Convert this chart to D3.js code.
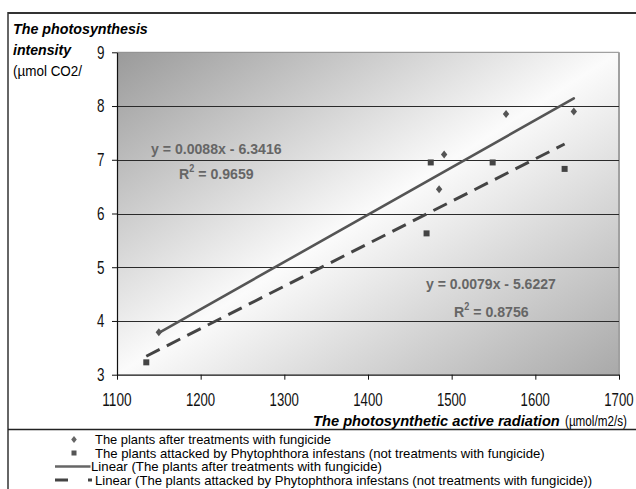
<!DOCTYPE html>
<html>
<head>
<meta charset="utf-8">
<script src="https://cdn.jsdelivr.net/npm/d3@7"></script>
<style>
  html, body { margin: 0; padding: 0; background: #fff; }
  svg { display: block; font-family: "Liberation Sans", Arial, sans-serif; }
</style>
</head>
<body>
<svg id="chart" width="636" height="489"></svg>
<script>
// Photosynthetic active radiation (µmol/m2/s) vs photosynthesis intensity
const radiationTreated = [1150, 1485, 1491, 1565, 1646];
const intensityTreated = [3.79, 6.45, 7.10, 7.85, 7.90];
const radiationAttacked = [1135, 1470, 1475, 1549, 1635];
const intensityAttacked = [3.23, 5.63, 6.95, 6.95, 6.83];

// Linear trend coefficients (slope, intercept, R²)
const trendTreated = { slope: 0.0088, intercept: -6.3416, r2: "0.9659" };
const trendAttacked = { slope: 0.0079, intercept: -5.6227, r2: "0.8756" };

const xTicks = [1100, 1200, 1300, 1400, 1500, 1600, 1700];
const yTicks = [3, 4, 5, 6, 7, 8, 9];

const legendLabels = [
  "The plants after treatments with fungicide",
  "The  plants attacked by Phytophthora infestans (not treatments with fungicide)",
  "Linear (The plants after treatments with fungicide)",
  "Linear (The  plants attacked by Phytophthora infestans (not treatments with fungicide))"
];

const svg = d3.select("#chart");
const plot = { left: 117, right: 619, top: 52.3, bottom: 374.7 };

const x = d3.scaleLinear().domain([1100, 1700]).range([plot.left, plot.right]);
const y = d3.scaleLinear().domain([3, 9]).range([plot.bottom, plot.top]);

// Narrow-set text: draws a label, then squeezes it horizontally to the given width.
// anchor: "start" keeps the left edge at x0, "end" the right edge, "middle" the centre.
function narrowText(parent, x0, baseline, width, anchor, build) {
  const g = parent.append("g");
  const t = g.append("text").attr("x", 0).attr("y", 0);
  build(t);
  const w = t.node().getBBox().width || 1;
  const s = width / w;
  const left = anchor === "end" ? x0 - width : anchor === "middle" ? x0 - width / 2 : x0;
  g.attr("transform", `translate(${left},${baseline}) scale(${s},1)`);
  return t;
}

// Outer frame
svg.append("line").attr("x1", 8).attr("x2", 636).attr("y1", 13).attr("y2", 13)
  .attr("stroke", "#333").attr("stroke-width", 2);
svg.append("line").attr("x1", 8).attr("x2", 8).attr("y1", 12).attr("y2", 489)
  .attr("stroke", "#333").attr("stroke-width", 1.5);
svg.append("line").attr("x1", 8).attr("x2", 636).attr("y1", 429.5).attr("y2", 429.5)
  .attr("stroke", "#222").attr("stroke-width", 1.3);

// Plot background gradient
const defs = svg.append("defs");
const grad = defs.append("linearGradient").attr("id", "bg")
  .attr("x1", 0).attr("y1", 0).attr("x2", 1).attr("y2", 1);
grad.append("stop").attr("offset", "0%").attr("stop-color", "#9a9a9a");
grad.append("stop").attr("offset", "50%").attr("stop-color", "#fbfbfb");
grad.append("stop").attr("offset", "100%").attr("stop-color", "#a9a9a9");

svg.append("rect")
  .attr("x", plot.left).attr("y", plot.top)
  .attr("width", plot.right - plot.left).attr("height", plot.bottom - plot.top)
  .attr("fill", "url(#bg)");

// Plot area top and right border
svg.append("line").attr("x1", plot.left).attr("x2", plot.right)
  .attr("y1", plot.top).attr("y2", plot.top).attr("stroke", "#8a8a8a").attr("stroke-width", 1);
svg.append("line").attr("x1", plot.right).attr("x2", plot.right)
  .attr("y1", plot.top).attr("y2", plot.bottom).attr("stroke", "#a0a0a0").attr("stroke-width", 2);

// Horizontal gridlines
svg.append("g").selectAll("line")
  .data(yTicks.filter(d => d > 3 && d < 9))
  .join("line")
  .attr("x1", plot.left).attr("x2", plot.right)
  .attr("y1", d => Math.round(y(d)) + 0.5).attr("y2", d => Math.round(y(d)) + 0.5)
  .attr("stroke", "#2a2a2a").attr("stroke-width", 1);

// Axes (tick labels drawn separately in narrow type)
const xAxis = svg.append("g")
  .attr("transform", `translate(0,${plot.bottom})`)
  .call(d3.axisBottom(x).tickValues(xTicks).tickSize(5).tickSizeOuter(0).tickFormat(""));
const yAxis = svg.append("g")
  .attr("transform", `translate(${plot.left},0)`)
  .call(d3.axisLeft(y).tickValues(yTicks).tickSize(5).tickSizeOuter(0).tickFormat(""));
[xAxis, yAxis].forEach(a => {
  a.select(".domain").attr("stroke", "#111").attr("stroke-width", 1.2);
  a.selectAll(".tick line").attr("stroke", "#111");
});

const tickLabels = svg.append("g").attr("font-size", 17.5).attr("fill", "#111");
xTicks.forEach(v => {
  narrowText(tickLabels, x(v), 405.5, 29.5, "middle", t => t.text(d3.format("d")(v)));
});
yTicks.forEach(v => {
  narrowText(tickLabels, 104.5, y(v) + 6.3, 7.5, "end", t => t.text(d3.format("d")(v)));
});

// Trend lines
const trendLine = (t, xs) => {
  const [lo, hi] = d3.extent(xs);
  return [[lo, t.slope * lo + t.intercept], [hi, t.slope * hi + t.intercept]];
};
const line = d3.line().x(d => x(d[0])).y(d => y(d[1]));

svg.append("path")
  .datum(trendLine(trendTreated, radiationTreated))
  .attr("d", line).attr("fill", "none")
  .attr("stroke", "#555").attr("stroke-width", 2.6).attr("stroke-linecap", "round");
svg.append("path")
  .datum(trendLine(trendAttacked, radiationAttacked))
  .attr("d", line).attr("fill", "none")
  .attr("stroke", "#444").attr("stroke-width", 3)
  .attr("stroke-dasharray", "15,8");

// Data markers
const treated = radiationTreated.map((r, i) => [r, intensityTreated[i]]);
const attacked = radiationAttacked.map((r, i) => [r, intensityAttacked[i]]);

svg.append("g").selectAll("path")
  .data(treated).join("path")
  .attr("d", "M0,-4L3.2,0L0,4L-3.2,0Z")
  .attr("transform", d => `translate(${x(d[0])},${y(d[1])})`)
  .attr("fill", "#555");
svg.append("g").selectAll("rect")
  .data(attacked).join("rect")
  .attr("x", d => x(d[0]) - 3).attr("y", d => y(d[1]) - 3)
  .attr("width", 6).attr("height", 6)
  .attr("fill", "#444");

// Regression equations
const eq = svg.append("g").attr("font-weight", "bold").attr("font-size", 15.5).attr("fill", "#666");
function equation(t, xEq, yEq, wEq, xR, yR, wR) {
  const sign = t.intercept < 0 ? "-" : "+";
  narrowText(eq, xEq, yEq, wEq, "start",
    s => s.text(`y = ${t.slope.toFixed(4)}x ${sign} ${Math.abs(t.intercept).toFixed(4)}`));
  narrowText(eq, xR, yR, wR, "start", s => {
    s.append("tspan").text("R");
    s.append("tspan").attr("dy", -7).attr("font-size", 10).text("2");
    s.append("tspan").attr("dy", 7).text(` = ${t.r2}`);
  });
}
equation(trendTreated, 151, 153.5, 131, 179, 178.5, 75);
equation(trendAttacked, 426, 288.5, 130, 454, 316.5, 75);

// Y axis title
const yTitle = svg.append("g").attr("font-size", 14.5).attr("fill", "#000");
narrowText(yTitle, 13, 34, 135, "start",
  t => t.attr("font-weight", "bold").attr("font-style", "italic").text("The photosynthesis"));
narrowText(yTitle, 13, 55, 59, "start",
  t => t.attr("font-weight", "bold").attr("font-style", "italic").text("intensity"));
narrowText(yTitle, 13, 76, 70, "start", t => t.text("(µmol CO2/"));

// X axis title
const xTitle = svg.append("g").attr("font-size", 14.5).attr("fill", "#000");
narrowText(xTitle, 313, 425.5, 247, "start",
  t => t.attr("font-weight", "bold").attr("font-style", "italic").text("The photosynthetic active radiation"));
narrowText(xTitle, 627, 425.5, 62, "end", t => t.text("(µmol/m2/s)"));

// Legend
const legendRows = [439.5, 453, 466.5, 480];
const legendWidths = [236, 450, 291, 497];
const legendX = [95, 95, 91, 95];
const legend = svg.append("g").attr("font-size", 13.2).attr("fill", "#000");
legendLabels.forEach((label, i) => {
  narrowText(legend, legendX[i], legendRows[i] + 4.6, legendWidths[i], "start", t => t.text(label));
});
legend.append("path").attr("d", "M0,-3.5L2.8,0L0,3.5L-2.8,0Z")
  .attr("transform", `translate(74,${legendRows[0]})`).attr("fill", "#666");
legend.append("rect").attr("x", 71.5).attr("y", legendRows[1] - 2.5)
  .attr("width", 5).attr("height", 5).attr("fill", "#555");
legend.append("line").attr("x1", 55).attr("x2", 90.5)
  .attr("y1", legendRows[2]).attr("y2", legendRows[2])
  .attr("stroke", "#666").attr("stroke-width", 2.6);
legend.append("line").attr("x1", 55).attr("x2", 92)
  .attr("y1", legendRows[3]).attr("y2", legendRows[3])
  .attr("stroke", "#444").attr("stroke-width", 3)
  .attr("stroke-dasharray", "13,20,4");
</script>
</body>
</html>
